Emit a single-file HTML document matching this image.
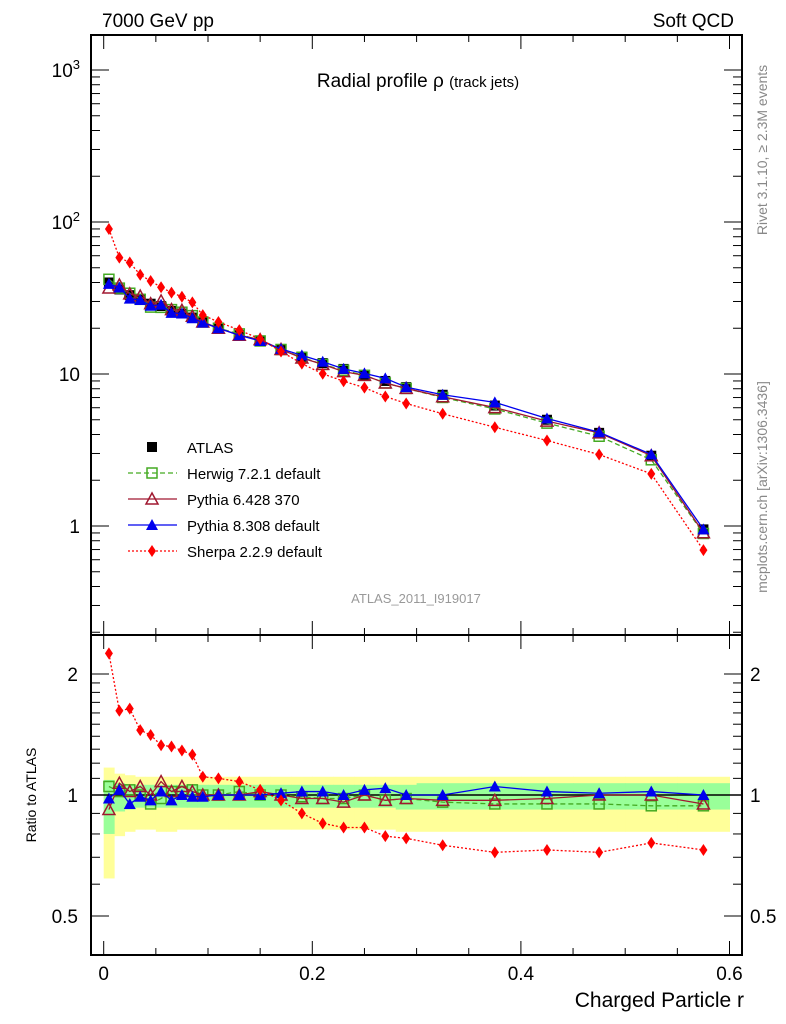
<!DOCTYPE html>
<html><head><meta charset="utf-8"><style>
body{margin:0;background:#fff}
svg{display:block;font-family:"Liberation Sans",sans-serif}
</style></head><body>
<svg id="c" width="786" height="1024" viewBox="0 0 786 1024">
<g id="bands"></g>
<g id="grid"></g>
<g id="series"></g>
<g id="frame"></g>
<text x="102" y="27" font-size="19">7000 GeV pp</text>
<text x="734" y="27" font-size="19" text-anchor="end">Soft QCD</text>
<text x="418" y="87" font-size="19" text-anchor="middle">Radial profile ρ <tspan font-size="15">(track jets)</tspan></text>
<text x="416" y="603" font-size="13" fill="#999" text-anchor="middle">ATLAS_2011_I919017</text>
<text transform="translate(767,150) rotate(-90)" font-size="14" fill="#888" text-anchor="middle">Rivet 3.1.10, ≥ 2.3M events</text>
<text transform="translate(767,487) rotate(-90)" font-size="14" fill="#888" text-anchor="middle">mcplots.cern.ch [arXiv:1306.3436]</text>
<text transform="translate(36,795) rotate(-90)" font-size="14" text-anchor="middle">Ratio to ATLAS</text>
<text x="744" y="1007" font-size="21" text-anchor="end">Charged Particle r</text>
<g id="legend"></g>
</svg>
<script>
const xCenters=[0.005,0.015,0.025,0.035,0.045,0.055,0.065,0.075,0.085,0.095,0.11,0.13,0.15,0.17,0.19,0.21,0.23,0.25,0.27,0.29,0.325,0.375,0.425,0.475,0.525,0.575];
const xLow=[0,0.01,0.02,0.03,0.04,0.05,0.06,0.07,0.08,0.09,0.1,0.12,0.14,0.16,0.18,0.2,0.22,0.24,0.26,0.28,0.3,0.35,0.4,0.45,0.5,0.55];
const xHigh=[0.01,0.02,0.03,0.04,0.05,0.06,0.07,0.08,0.09,0.1,0.12,0.14,0.16,0.18,0.2,0.22,0.24,0.26,0.28,0.3,0.35,0.4,0.45,0.5,0.55,0.6];
const atlas=[40,36,33,31,29,28,26,25,23.5,22,20,18,16.5,14.5,13,11.8,10.8,9.8,9,8.2,7.3,6.2,5.0,4.1,2.9,0.95];
const herwigRatio=[1.05,1.02,1.03,1.0,0.95,0.98,1.02,1.02,1.03,1.0,1.0,1.02,1.0,1.0,0.99,0.98,0.98,1.0,0.97,0.98,0.96,0.95,0.95,0.95,0.94,0.94];
const py6Ratio=[0.92,1.07,1.02,1.05,1.0,1.08,1.02,1.05,1.02,1.0,1.0,1.0,1.02,1.0,0.98,0.98,0.96,1.0,0.97,0.98,0.97,0.97,0.98,1.0,1.0,0.95];
const py8Ratio=[0.98,1.03,0.95,0.99,0.97,1.02,0.97,1.0,0.99,0.99,1.0,1.0,1.0,1.01,1.02,1.02,1.0,1.03,1.04,1.0,1.0,1.05,1.02,1.01,1.02,1.0];
const sherpaRatio=[2.25,1.62,1.64,1.45,1.41,1.33,1.32,1.29,1.26,1.11,1.10,1.08,1.03,0.97,0.90,0.85,0.83,0.83,0.79,0.78,0.75,0.72,0.73,0.72,0.76,0.73];
const yellowHi=[1.17,1.13,1.12,1.11,1.11,1.11,1.11,1.11,1.11,1.11,1.11,1.11,1.11,1.11,1.11,1.11,1.11,1.11,1.11,1.11,1.11,1.11,1.11,1.11,1.11,1.11];
const yellowLo=[0.62,0.79,0.81,0.82,0.82,0.81,0.81,0.82,0.82,0.82,0.82,0.82,0.82,0.82,0.82,0.82,0.82,0.82,0.82,0.81,0.81,0.81,0.81,0.81,0.81,0.81];
const greenHi=[1.09,1.07,1.06,1.06,1.06,1.06,1.06,1.06,1.06,1.06,1.06,1.06,1.06,1.06,1.06,1.06,1.06,1.06,1.06,1.06,1.07,1.07,1.07,1.07,1.07,1.07];
const greenLo=[0.80,0.91,0.92,0.93,0.93,0.93,0.93,0.93,0.93,0.93,0.93,0.93,0.93,0.93,0.93,0.93,0.93,0.93,0.93,0.92,0.92,0.92,0.92,0.92,0.92,0.92];
const xTicks=[0,0.2,0.4,0.6];
const xTickLabels=["0","0.2","0.4","0.6"];
const yTicks=[1000,100,10,1];
const ratioTicks=[2,1,0.5];
const ratioTickLabels=["2","1","0.5"];

const NS="http://www.w3.org/2000/svg";
const L=91,R=742,T=35,M=635,B=955;
const X=v=>103.7+1043*v;
const Y=v=>526-152*Math.log10(v);
const YR=r=>795-402*Math.log10(r);
function mk(tag,attrs,parent){const e=document.createElementNS(NS,tag);for(const k in attrs)e.setAttribute(k,attrs[k]);parent.appendChild(e);return e;}
const bands=document.getElementById('bands'),grid=document.getElementById('grid'),ser=document.getElementById('series'),frame=document.getElementById('frame'),leg=document.getElementById('legend');

// bands
for(let i=0;i<xCenters.length;i++){
  const yb=mk('rect',{x:X(xLow[i]),y:YR(yellowHi[i]),width:X(xHigh[i])-X(xLow[i])+0.5,height:YR(yellowLo[i])-YR(yellowHi[i]),fill:'#ffff99'},bands);
  
  
}
for(let i=0;i<xCenters.length;i++){
  const gb=mk('rect',{x:X(xLow[i]),y:YR(greenHi[i]),width:X(xHigh[i])-X(xLow[i])+0.5,height:YR(greenLo[i])-YR(greenHi[i]),fill:'#99ff99'},bands);
  
  
}
mk('line',{x1:L,x2:R,y1:YR(1),y2:YR(1),stroke:'#000','stroke-width':1.5},grid);

// frames
for(const [t,b] of [[T,M],[M,B]]){
  const f=mk('rect',{x:L,y:t,width:R-L,height:b-t,fill:'none',stroke:'#000','stroke-width':2},frame);
  
  
}
// x ticks
for(let v=0;v<=0.6001;v+=0.05){
  const major=Math.abs(v*10-Math.round(v*10))<1e-6&&Math.round(v*10)%2===0;
  const len=major?14:7;
  for(const yb of [M,B]) mk('line',{x1:X(v),x2:X(v),y1:yb,y2:yb-len,stroke:'#000','stroke-width':1},frame);
  mk('line',{x1:X(v),x2:X(v),y1:T,y2:T+len,stroke:'#000','stroke-width':1},frame);
  mk('line',{x1:X(v),x2:X(v),y1:M,y2:M+len,stroke:'#000','stroke-width':1},frame);
}
xTicks.forEach((v,i)=>{const t=mk('text',{x:X(v),y:980,'font-size':19,'text-anchor':'middle'},frame);t.textContent=xTickLabels[i];

});
// y ticks main (log)
const yMin=Math.pow(10,(526-M)/152),yMax=Math.pow(10,(526-T)/152);
for(let d=-1;d<=3;d++){for(let k=1;k<10;k++){const v=k*Math.pow(10,d);if(v<yMin||v>yMax)continue;const len=k===1?18:9;
mk('line',{x1:L,x2:L+len,y1:Y(v),y2:Y(v),stroke:'#000'},frame);mk('line',{x1:R,x2:R-len,y1:Y(v),y2:Y(v),stroke:'#000'},frame);}}
yTicks.forEach(v=>{const t=mk('text',{x:80,y:Y(v)+7,'font-size':19,'text-anchor':'end'},frame);


if(v>=100){t.textContent='10';const s=mk('tspan',{dy:-8,'font-size':13},t);s.textContent=String(Math.round(Math.log10(v)));}else t.textContent=String(v);});
// ratio ticks
for(let v=0.4;v<=2.5;v+=(v<1?0.1:(v<2?0.1:0.5))){const r=Math.round(v*10)/10;const major=(r===0.5||r===1||r===2);const len=major?18:9;
mk('line',{x1:L,x2:L+len,y1:YR(r),y2:YR(r),stroke:'#000'},frame);mk('line',{x1:R,x2:R-len,y1:YR(r),y2:YR(r),stroke:'#000'},frame);}
ratioTicks.forEach((v,i)=>{for(const [x,a] of [[78,'end'],[750,'start']]){const t=mk('text',{x:x,y:YR(v)+7,'font-size':19,'text-anchor':a},frame);t.textContent=ratioTickLabels[i];

}});

// markers
function marker(type,x,y,col,parent,s){
  s=s||5;
  if(type==='sq') return mk('rect',{x:x-s,y:y-s,width:2*s,height:2*s,fill:'#000'},parent);
  if(type==='osq') return mk('rect',{x:x-s,y:y-s,width:2*s,height:2*s,fill:'none',stroke:col,'stroke-width':1.5},parent);
  if(type==='otri') return mk('polygon',{points:`${x},${y-s-1} ${x-s-1},${y+s} ${x+s+1},${y+s}`,fill:'none',stroke:col,'stroke-width':1.5},parent);
  if(type==='tri') return mk('polygon',{points:`${x},${y-s-1} ${x-s-1},${y+s} ${x+s+1},${y+s}`,fill:col},parent);
  if(type==='dia') return mk('polygon',{points:`${x},${y-s-1} ${x-s+1},${y} ${x},${y+s+1} ${x+s-1},${y}`,fill:col},parent);
}
const mcs=[
 {name:'herwig',r:herwigRatio,col:'#44aa22',dash:'5,3',m:'osq',label:'Herwig 7.2.1 default'},
 {name:'pythia6',r:py6Ratio,col:'#a01830',dash:'',m:'otri',label:'Pythia 6.428 370'},
 {name:'pythia8',r:py8Ratio,col:'#0000ee',dash:'',m:'tri',label:'Pythia 8.308 default'},
 {name:'sherpa',r:sherpaRatio,col:'#ff0000',dash:'2,2',m:'dia',label:'Sherpa 2.2.9 default'}
];
// ATLAS main
atlas.forEach((v,i)=>{const e=marker('sq',X(xCenters[i]),Y(v),'#000',ser,5);

});
mcs.forEach(s=>{
  const main=s.r.map((r,i)=>[X(xCenters[i]),Y(r*atlas[i])]);
  const rat=s.r.map((r,i)=>[X(xCenters[i]),YR(r)]);
  for(const pts of [main,rat]){
    const p=mk('polyline',{points:pts.map(p=>p.join(',')).join(' '),fill:'none',stroke:s.col,'stroke-width':1.3,'stroke-dasharray':s.dash},ser);
    
    
    pts.forEach(q=>{const e=marker(s.m,q[0],q[1],s.col,ser,5);
    
    });
  }
});
// legend
const lys=[447,473,499,525,551];
const lsq=marker('sq',152,lys[0],'#000',leg,5);


const lt0=mk('text',{x:187,y:lys[0]+6,'font-size':15},leg);lt0.textContent='ATLAS';


mcs.forEach((s,i)=>{const y=lys[i+1];
  const ln=mk('line',{x1:128,x2:177,y1:y,y2:y,stroke:s.col,'stroke-width':1.3,'stroke-dasharray':s.dash},leg);
  
  
  marker(s.m,152,y,s.col,leg,5);
  const t=mk('text',{x:187,y:y+6,'font-size':15},leg);t.textContent=s.label;
  
  
});
</script>
</body></html>
